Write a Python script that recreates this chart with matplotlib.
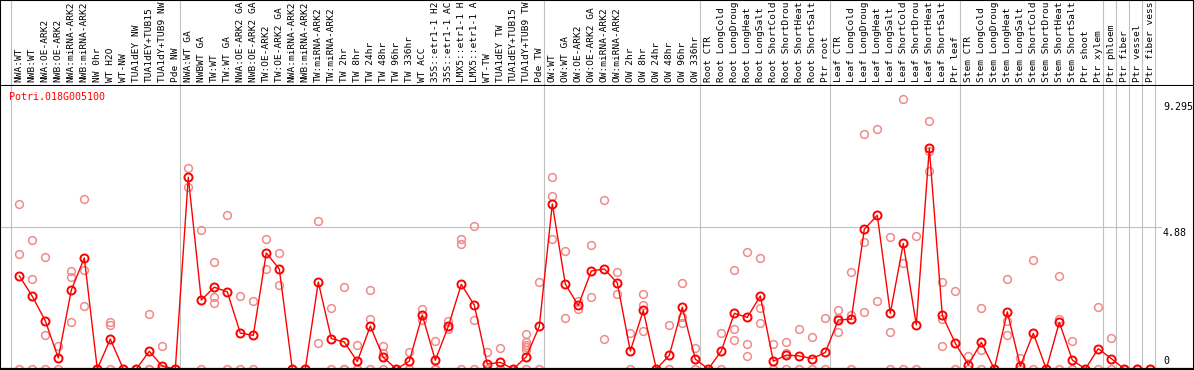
import matplotlib
matplotlib.use("Agg")
import matplotlib.pyplot as plt
import numpy as np

# ---------------- data ----------------
labels = [
    "NWA:WT", "NWB:WT", "NWA:OE-ARK2", "NWB:OE-ARK2", "NWA:miRNA-ARK2", "NWB:miRNA-ARK2",
    "NW 0hr", "WT H2O", "WT-NW", "TUA1dEY NW", "TUA1dEY+TUB15 NW", "TUA1dY+TUB9 NW", "Pde NW",
    "NWA:WT GA", "NWBWT GA", "TW:WT", "TW:WT GA", "NWA:OE-ARK2 GA", "NWB:OE-ARK2 GA",
    "TW:OE-ARK2", "TW:OE-ARK2 GA", "NWA:miRNA-ARK2", "NWB:miRNA-ARK2", "TW:miRNA-ARK2",
    "TW:miRNA-ARK2", "TW 2hr", "TW 8hr", "TW 24hr", "TW 48hr", "TW 96hr", "TW 336hr",
    "WT ACC", "35S::etr1-1 H2O", "35S::etr1-1 ACC", "LMX5::etr1-1 H2O", "LMX5::etr1-1 ACC",
    "WT-TW", "TUA1dEY TW", "TUA1dEY+TUB15 TW", "TUA1dY+TUB9 TW", "Pde TW",
    "OW:WT", "OW:WT GA", "OW:OE-ARK2", "OW:OE-ARK2 GA", "OW:miRNA-ARK2", "OW:miRNA-ARK2",
    "OW 2hr", "OW 8hr", "OW 24hr", "OW 48hr", "OW 96hr", "OW 336hr",
    "Root CTR", "Root LongCold", "Root LongDrought", "Root LongHeat", "Root LongSalt",
    "Root ShortCold", "Root ShortDrought", "Root ShortHeat", "Root ShortSalt", "Ptr root",
    "Leaf CTR", "Leaf LongCold", "Leaf LongDrought", "Leaf LongHeat", "Leaf LongSalt",
    "Leaf ShortCold", "Leaf ShortDrought", "Leaf ShortHeat", "Leaf ShortSalt", "Ptr leaf",
    "Stem CTR", "Stem LongCold", "Stem LongDrought", "Stem LongHeat", "Stem LongSalt",
    "Stem ShortCold", "Stem ShortDrought", "Stem ShortHeat", "Stem ShortSalt", "Ptr shoot",
    "Ptr xylem", "Ptr phloem", "Ptr fiber", "Ptr vessel", "Ptr fiber vessel",
]

means = [
    3.21, 2.51, 1.66, 0.38, 2.72, 3.83, 0.00, 1.03, 0.00, 0.00, 0.61, 0.10, 0.00,
    6.61, 2.38, 2.82, 2.66, 1.24, 1.16, 4.00, 3.45, 0.00, 0.00, 3.00, 1.05, 0.93,
    0.26, 1.48, 0.40, 0.00, 0.27, 1.86, 0.30, 1.47, 2.92, 2.20, 0.17, 0.23, 0.00,
    0.42, 1.47,
    5.69, 2.93, 2.19, 3.38, 3.45, 2.97, 0.62, 2.02, 0.00, 0.47, 2.13, 0.34,
    0.00, 0.62, 1.92, 1.78, 2.52, 0.27, 0.48, 0.45, 0.36, 0.57,
    1.69, 1.72, 4.82, 5.30, 1.92, 4.33, 1.52, 7.61, 1.85, 0.89,
    0.14, 0.92, 0.00, 1.97, 0.10, 1.23, 0.00, 1.61, 0.31, 0.00,
    0.70, 0.36, 0.00, 0.00, 0.00,
]

replicates = [
    [5.68, 3.97, 0], [4.44, 3.09, 0], [3.86, 1.16, 0], [0.79, 0], [3.38, 3.17, 1.61],
    [5.85, 3.41, 2.16], [0, 0], [1.62, 1.52, 0], [0], [0], [1.90, 0, 0], [0.79, 0], [0],
    [6.92, 6.27], [4.79, 0], [3.68, 2.49, 2.26], [5.30, 0], [2.52, 0], [2.34, 0],
    [4.50, 3.44], [4.00, 2.90], [0], [0], [5.10, 0.89], [2.09, 0], [2.83, 0, 0],
    [0.82, 0, 0], [2.71, 1.72, 0], [0.79, 0.54, 0], [0], [0.59, 0], [2.07, 1.69],
    [0.97, 0, 0], [1.67, 1.37], [4.50, 4.30, 0], [4.92, 1.69, 0], [0.59, 0, 0],
    [0.72, 0, 0], [0], [1.20, 0.94, 0.83, 0.75, 0.66, 0], [2.99, 0],
    [6.61, 5.95, 4.50], [4.06, 1.75], [2.34, 2.07], [4.26, 2.50], [5.82, 1.03],
    [3.33, 2.59], [1.23, 0], [2.59, 2.21, 1.30], [0], [1.51, 0], [2.95, 1.80, 1.58],
    [0.71, 0],
    [0], [1.23, 0], [3.40, 1.37, 1.00], [4.02, 0.85, 0.44], [3.82, 2.09, 1.58],
    [0.85, 0], [0.93, 0.54, 0], [1.37, 0], [1.10, 0], [1.75, 0],
    [2.03, 1.75, 1.27], [3.34, 1.86, 0], [8.10, 4.37, 1.97], [8.27, 2.33],
    [4.54, 1.27, 0], [9.295, 3.64, 0], [4.59, 0], [8.54, 7.52, 6.83],
    [2.99, 1.73, 0.79], [2.68, 0],
    [0.46, 0], [2.09, 0.64, 0], [0], [3.09, 1.67, 1.16], [0.39, 0], [3.75, 0], [0],
    [3.20, 1.72, 0], [0.98, 0], [0],
    [2.13, 0], [1.06, 0], [0], [0], [0],
]

group_ends = [12, 40, 52, 62, 72, 83, 84, 85, 86, 87]
gene_name = "Potri.018G005100"
y_ticks = [9.295, 4.88, 0]
y_tick_labels = ["9.295", "4.88", "0"]
MAX_LABEL_CHARS = 14   # the header column only shows this many characters

# ---------------- layout (pixel based) ----------------
W, H = 1194, 370
HEADER = 86
X0, DX = 19.3, 13.0          # pixel of first point, pixel spacing
PXY = 29.0                   # pixels per unit
Y0PIX = 369                  # pixel row of value 0

fig = plt.figure(figsize=(W / 100, H / 100), dpi=100)
xlim = (-X0 / DX, (W - X0) / DX)

mono = "DejaVu Sans Mono"
grey = "#c0c0c0"

# header axes
axh = fig.add_axes([0, (H - HEADER) / H, 1, HEADER / H])
axh.set_xlim(*xlim)
axh.set_ylim(0, HEADER)
axh.set_xticks([])
axh.set_yticks([])
for s in axh.spines.values():
    s.set_color("black")
    s.set_linewidth(1.5)

x = np.arange(len(means))
for k, lab in enumerate(labels):
    axh.text(k, 3.5, lab[:MAX_LABEL_CHARS].rstrip(), rotation=90, ha="center",
             va="bottom", fontsize=6.8, family=mono, color="black")

vlines = [-0.62] + [e + 0.38 for e in group_ends]
for v in vlines:
    axh.axvline(v, color=grey, lw=0.8, zorder=0)

# main axes
ax = fig.add_axes([0, 0, 1, (H - HEADER) / H])
ax.set_xlim(*xlim)
ybot = -(H - Y0PIX) / PXY
ytop = (Y0PIX - HEADER) / PXY
ax.set_ylim(ybot, ytop)
ax.set_xticks([])
ax.set_yticks([])
ax.spines["top"].set_visible(False)
ax.spines["bottom"].set_visible(False)
ax.spines["left"].set_linewidth(1.5)
ax.spines["right"].set_linewidth(1.5)

for v in vlines:
    ax.axvline(v, color=grey, lw=0.8, zorder=0)
grid_end = (1161 - X0) / DX
ax.plot([xlim[0], grid_end], [4.88, 4.88], color=grey, lw=0.8, zorder=0)
ax.axhline(0, color="black", lw=1.6, zorder=5)

# replicates
rx, ry = [], []
for k, reps in enumerate(replicates):
    for r in reps:
        rx.append(k)
        ry.append(r)
ax.plot(rx, ry, linestyle="none", marker="o", ms=5.6, mfc="none",
        mec="#f08a8a", mew=1.1, zorder=2, clip_on=True)

# mean line
ax.plot(x, means, color="#ff0000", lw=1.0, marker="o", ms=5.8, mfc="none",
        mec="#ff0000", mew=1.4, zorder=3, clip_on=True)

# labels
ax.text((9 - X0) / DX, (Y0PIX - 97) / PXY, gene_name, color="#ff0000",
        family=mono, fontsize=7.2, ha="left", va="center")
tx = (1163 - X0) / DX
ax.text(tx, y_ticks[0] - 0.08, y_tick_labels[0], family=mono, fontsize=7.2,
        ha="left", va="top", color="black")
ax.text(tx, y_ticks[1] - 0.02, y_tick_labels[1], family=mono, fontsize=7.2,
        ha="left", va="top", color="black")
ax.text(tx, y_ticks[2] + 0.12, y_tick_labels[2], family=mono, fontsize=7.2,
        ha="left", va="bottom", color="black")

fig.savefig("out.png", dpi=100)
